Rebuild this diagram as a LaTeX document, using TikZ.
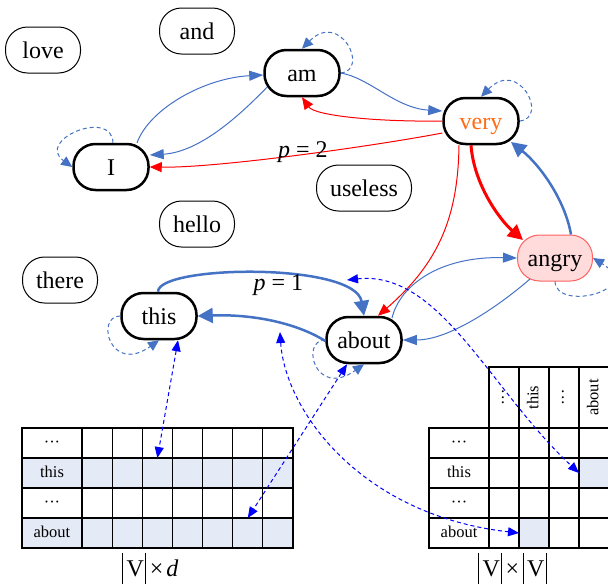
\documentclass[tikz,border=0pt]{standalone}
\usepackage{fontspec}
\setmainfont{Liberation Serif}
\usetikzlibrary{arrows.meta}

\definecolor{edgeblue}{RGB}{68,114,196}
\definecolor{edgered}{RGB}{255,0,0}
\definecolor{linkblue}{RGB}{0,0,255}
\definecolor{veryorange}{RGB}{255,108,20}
\definecolor{angryfill}{RGB}{255,219,219}
\definecolor{angryline}{RGB}{255,96,96}
\definecolor{cellfill}{RGB}{229,235,246}

\newcommand\wordsize{\fontsize{24pt}{28pt}\selectfont}
\newcommand\cellsize{\fontsize{16.5pt}{19pt}\selectfont}
% tall vertical bar used for the cardinality |V|
\newcommand\cardbar{\rule[-7pt]{0.9pt}{31pt}}

\begin{document}
\begin{tikzpicture}[x=1pt,y=-1pt,
  word/.style={draw, line width=1pt, rounded corners=22pt, minimum width=75pt,
    minimum height=46pt, inner sep=0pt, text height=19pt, text depth=3pt, font=\wordsize},
  usedword/.style={word, line width=2.5pt},
  thinblue/.style={draw=edgeblue, line width=1pt, -{Triangle[length=14pt,width=10pt]}},
  thickblue/.style={draw=edgeblue, line width=2.5pt, -{Triangle[length=15pt,width=15pt]}},
  thinred/.style={draw=edgered, line width=1pt, -{Triangle[length=12pt,width=10pt]}},
  thickred/.style={draw=edgered, line width=3pt, -{Triangle[length=15pt,width=15pt]}},
  selfloop/.style={draw=edgeblue, line width=1pt, dash pattern=on 4pt off 3pt,
    -{Triangle[length=11pt,width=10pt]}},
  link/.style={draw=linkblue, line width=1pt, dash pattern=on 4pt off 3pt,
    {Triangle[length=11pt,width=9pt]}-{Triangle[length=11pt,width=9pt]}},
  cell/.style={inner sep=0pt, outer sep=0pt, minimum height=30pt,
    text height=10pt, text depth=1.5pt, font=\cellsize},
  grid/.style={draw=black, line width=1.2pt},
  lbl/.style={inner sep=0pt, font=\wordsize}
]
\useasboundingbox (0,0) rectangle (608,587);

% vocabulary words
\node[word] (love) at (43,50) {love};
\node[word] (and) at (197,31) {and};
\node[word, minimum width=95pt] (useless) at (364,188) {useless};
\node[word] (hello) at (197,224) {hello};
\node[word] (there) at (60,280) {there};

% words of the sentence
\node[usedword] (am) at (302,73) {am};
\node[usedword, text=veryorange] (very) at (481,121) {very};
\node[usedword] (I) at (111,167) {I};
\node[usedword] (this) at (159,316) {this};
\node[usedword] (about) at (364,340) {about};
\node[word, fill=angryfill, draw=angryline] (angry) at (555,258) {angry};

% thin blue transitions
\draw[thinblue] ([xshift=26pt]I.north) .. controls (150,108) and (205,78) .. ([yshift=-2pt]am.west);
\draw[thinblue] ([shift={(4pt,-14pt)}]am.west) .. controls (240,115) and (200,152) .. ([yshift=12pt]I.east);
\draw[thinblue] (am.east) .. controls (370,78) and (395,108) .. ([yshift=10pt]very.west);
\draw[thinblue] ([shift={(28pt,22pt)}]about.center) .. controls (400,285) and (440,256) .. (angry.west);
\draw[thinblue] ([shift={(-25pt,-21pt)}]angry.center) .. controls (500,305) and (450,340) .. (about.east);

% thick blue transitions
\draw[thickblue] ([xshift=16pt]angry.north) .. controls (565,200) and (540,165) .. ([shift={(30pt,-21pt)}]very.center);
\draw[thickblue] ([xshift=-1pt]this.north) .. controls (158,265) and (355,262) .. (about.north);
\draw[thickblue] ([yshift=-1pt]about.west) .. controls (295,322) and (250,314) .. (this.east);

% red transitions
\draw[thinred] (very.west) .. controls (380,122) and (315,116) .. (am.south);
\draw[thinred] ([yshift=-12pt]very.west) .. controls (380,145) and (220,168) .. (I.east);
\draw[thinred] ([xshift=-22pt]very.south) .. controls (458,215) and (440,262) .. ([xshift=14pt]about.north);
\draw[thickred] ([xshift=-10pt]very.south) .. controls (474,185) and (500,220) .. ([shift={(-32pt,18pt)}]angry.center);

% edge labels
\node[lbl] (p2) at (303,152.5) {\textit{p} = 2};
\node[lbl] (p1) at (278.5,285) {\textit{p} = 1};

% self loops
\draw[selfloop] ([xshift=2pt]I.north) .. controls (112,108) and (35,140) .. (I.west);
\draw[selfloop] (am.east) .. controls (370,70) and (340,10) .. (am.north);
\draw[selfloop] (very.east) .. controls (549,118) and (519,58) .. (very.north);
\draw[selfloop] (angry.south) .. controls (556,312) and (645,290) .. (angry.east);
\draw[selfloop] (this.west) .. controls (95,316) and (110,375) .. (this.south);
\draw[selfloop] (about.west) .. controls (300,340) and (315,399) .. (about.south);

% embedding table |V| x d
\foreach \r/\lab/\fl in {1/···/white, 2/this/cellfill, 3/···/white, 4/about/cellfill} {
  \node[cell, fill=\fl, minimum width=60pt] (L-\r-1) at (52,413+30*\r) {\lab};
  \foreach \c in {2,...,8}
    \node[cell, fill=\fl, minimum width=30.14pt] (L-\r-\c) at ({82+30.14*(\c-2)+15.07},413+30*\r) {};
}
\foreach \r in {1,...,4}
  \foreach \c in {1,...,8}
    \draw[grid] (L-\r-\c.north west) rectangle (L-\r-\c.south east);
\node[lbl] (dimL) at (150,568)
  {\cardbar\hspace{4pt}V\hspace{1.5pt}\cardbar\hspace{3.5pt}×\hspace{3pt}\textit{d}};

% transition table |V| x |V|
\foreach \r/\lab in {1/···, 2/this, 3/···, 4/about} {
  \node[cell, minimum width=60pt] (R-\r-1) at (459,413+30*\r) {\lab};
  \foreach \c in {2,...,5}
    \node[cell, minimum width=30pt] (R-\r-\c) at ({504+30*(\c-2)},413+30*\r) {};
}
\foreach \c in {2,...,5}
  \node[cell, minimum width=30pt, minimum height=61pt] (R-0-\c) at ({504+30*(\c-2)},397.5) {};
\fill[cellfill] (R-2-5.north west) rectangle (R-2-5.south east);
\fill[cellfill] (R-4-3.north west) rectangle (R-4-3.south east);
\foreach \r in {1,...,4}
  \foreach \c in {1,...,5}
    \draw[grid] (R-\r-\c.north west) rectangle (R-\r-\c.south east);
\foreach \c/\lab in {2/···, 3/this, 4/···, 5/about} {
  \draw[grid] (R-0-\c.north west) rectangle (R-0-\c.south east);
  \node[cell, rotate=90] (H-\c) at (R-0-\c) {\lab};
}
\node[lbl] (dimR) at (512.5,568)
  {\cardbar\hspace{3.5pt}V\hspace{1.5pt}\cardbar\hspace{3.5pt}×\hspace{3.5pt}\cardbar\hspace{3.5pt}V\hspace{1.5pt}\cardbar};

% links between graph words and table rows
\coordinate (u1) at (280,332);
\coordinate (u2) at (347,280);
\draw[link] ([xshift=19pt]this.south) -- (L-2-4.north);
\draw[link] ([xshift=-17pt]about.south) -- (L-4-7.north);
\draw[link] (u1) .. controls (285,410) and (360,515) .. (R-4-3.west);
\draw[link] (u2) .. controls (440,270) and (490,390) .. (R-2-5.west);
\end{tikzpicture}
\end{document}
